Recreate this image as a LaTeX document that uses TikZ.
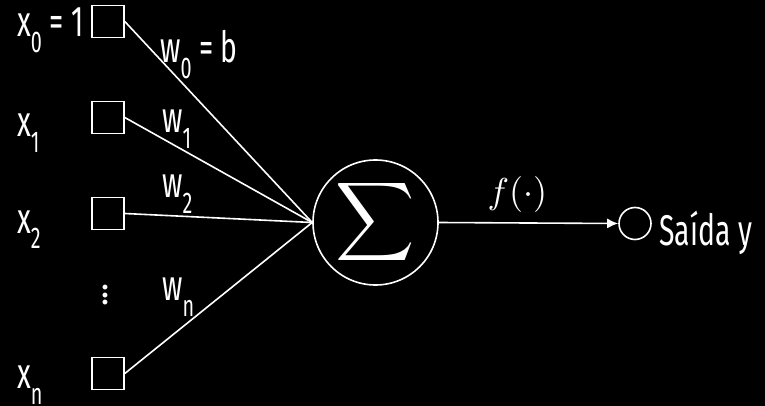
\documentclass[tikz,border=0pt]{standalone}
\usepackage{fontspec}
\newfontfamily\lbl[FakeStretch=0.66]{Fira Sans}
\newfontfamily\dotf{Fira Sans}
\usetikzlibrary{arrows.meta}
\newcommand\sbx[1]{\raisebox{-16pt}{\fontsize{30}{30}\selectfont #1}}
\tikzset{
  inbox/.style={draw=white, line width=1.6pt, minimum size=32pt, inner sep=0pt},
  lab/.style={text=white, anchor=base west, inner sep=0pt, font=\fontsize{43}{43}\lbl},
  wire/.style={draw=white, line width=1.6pt},
}
\begin{document}
\begin{tikzpicture}[x=1pt,y=-1pt]
\fill[black] (0,0) rectangle (765,406);
\useasboundingbox (0,0) rectangle (765,406);
% input boxes
\node[inbox] (sq0) at (108,21.5) {};
\node[inbox] (sq1) at (108,117.5) {};
\node[inbox] (sq2) at (108,213.5) {};
\node[inbox] (sqn) at (108,373.5) {};
% input labels
\node[lab] (x0) at (17,37) {x\sbx{0} = 1};
\node[lab] (x1) at (17,137) {x\sbx{1}};
\node[lab] (x2) at (17,233) {x\sbx{2}};
\node[lab] (xn) at (17,388) {x\sbx{n}};
\node[text=white, inner sep=0pt, font=\fontsize{27}{27}\bfseries\dotf] (dots) at (105,295.5)
  {\vbox{\baselineskip=7.5pt\lineskiplimit=-20pt\hbox{.}\hbox{.}\hbox{.}}};
% summation
\node[draw=white, line width=1.6pt, circle, minimum size=125pt, inner sep=0pt] (sum) at (375.5,222.5) {};
\node[text=white, scale=5.5, inner sep=0pt] (sigma) at (sum.center) {$\displaystyle\sum$};
% weights
\node[lab] (w0) at (160,63) {w\sbx{0} = b};
\node[lab] (w1) at (162,133) {w\sbx{1}};
\node[lab] (w2) at (162,197) {w\sbx{2}};
\node[lab] (wn) at (162,300) {w\sbx{n}};
% connections
\draw[wire] (sq0.east) -- (sum.west);
\draw[wire] (sq1.east) -- (sum.west);
\draw[wire] (sq2.east) -- (sum.west);
\draw[wire] (sqn.east) -- (sum.west);
% output
\node[draw=white, line width=1.6pt, circle, minimum size=32pt, inner sep=0pt] (out) at (635,223.5) {};
\draw[wire, -{Latex[length=11pt,width=10pt]}] (sum.east) -- (out.west);
\node[text=white, scale=3.6, anchor=base west, inner sep=0pt] (f) at (487,204) {$f(\cdot)$};
\node[lab] (saida) at (659,245) {Saída y};
\end{tikzpicture}
\end{document}
